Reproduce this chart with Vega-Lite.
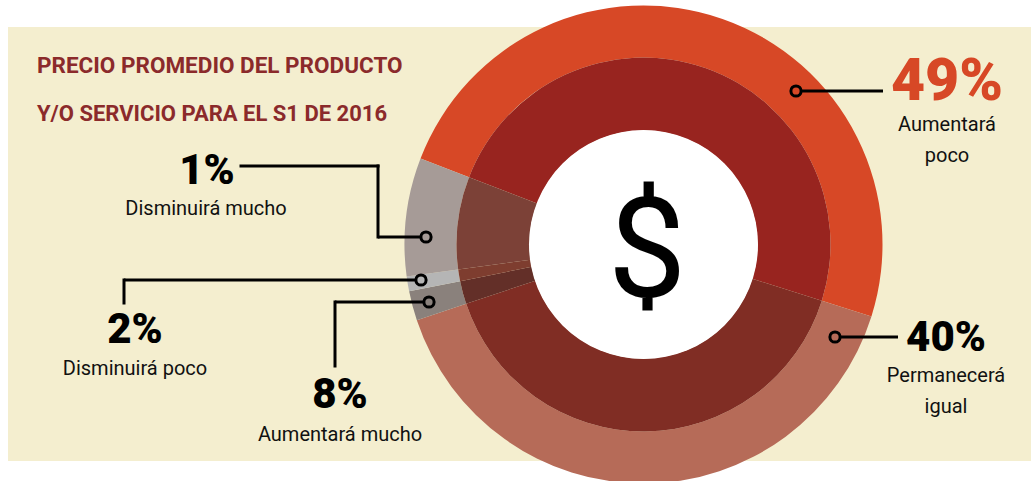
{"$schema":"https://vega.github.io/schema/vega-lite/v6.json","width":1031,"height":481,"padding":0,"autosize":"none","background":"#ffffff","config":{"view":{"stroke":null},"axis":{"disable":true}},"datasets":{"respuestas":[{"categoria":"Aumentará poco","rotulo":"49%","texto":"Aumentará\npoco","cuota":49,"orden":1},{"categoria":"Permanecerá igual","rotulo":"40%","texto":"Permanecerá\nigual","cuota":40,"orden":2},{"categoria":"Aumentará mucho","rotulo":"8%","texto":"Aumentará mucho","cuota":2,"orden":3},{"categoria":"Disminuirá poco","rotulo":"2%","texto":"Disminuirá poco","cuota":1,"orden":4},{"categoria":"Disminuirá mucho","rotulo":"1%","texto":"Disminuirá mucho","cuota":8,"orden":5}],"lienzo":[{"pieza":"fondo"}]},"data":{"name":"respuestas"},"resolve":{"scale":{"color":"independent"}},"layer":[
{"data":{"name":"lienzo"},"mark":{"type":"rect","fill":"#F4EECF"},"encoding":{"x":{"datum":8,"type":"quantitative","scale":{"domain":[0,1031],"nice":false,"zero":false}},"x2":{"datum":1031},"y":{"datum":27,"type":"quantitative","scale":{"domain":[481,0],"nice":false,"zero":false}},"y2":{"datum":461}}},
{"mark":{"type":"arc","radius":239,"radius2":187},"encoding":{"x":{"datum":643.5,"type":"quantitative"},"y":{"datum":244.5,"type":"quantitative"},"theta":{"field":"cuota","type":"quantitative","stack":true,"scale":{"domain":[0,100],"range":[-1.2025,5.0807]}},"order":{"field":"orden"},"color":{"field":"categoria","type":"nominal","legend":null,"scale":{"domain":["Aumentará poco","Permanecerá igual","Aumentará mucho","Disminuirá poco","Disminuirá mucho"],"range":["#D74826","#B66B58","#8A817C","#B5B5B5","#A69B97"]}}}},
{"mark":{"type":"arc","radius":187,"radius2":114},"encoding":{"x":{"datum":643.5,"type":"quantitative"},"y":{"datum":244.5,"type":"quantitative"},"theta":{"field":"cuota","type":"quantitative","stack":true,"scale":{"domain":[0,100],"range":[-1.2025,5.0807]}},"order":{"field":"orden"},"color":{"field":"categoria","type":"nominal","legend":null,"scale":{"domain":["Aumentará poco","Permanecerá igual","Aumentará mucho","Disminuirá poco","Disminuirá mucho"],"range":["#98241F","#802D24","#632F28","#7E3D2F","#7C4137"]}}}},
{"data":{"name":"lienzo"},"mark":{"type":"point","shape":"circle","filled":true,"fill":"#ffffff","opacity":1,"size":52441},"encoding":{"x":{"datum":643.5,"type":"quantitative"},"y":{"datum":244.5,"type":"quantitative"}}},
{"data":{"name":"lienzo"},"mark":{"type":"text","text":"$","font":"Roboto","fontSize":140,"align":"center","baseline":"alphabetic","fill":"#000000"},"encoding":{"x":{"datum":647,"type":"quantitative"},"y":{"datum":297,"type":"quantitative"}}},
{"data":{"name":"lienzo"},"mark":{"type":"text","text":"PRECIO PROMEDIO DEL PRODUCTO","font":"Roboto","fontWeight":"bold","fontSize":22.5,"align":"left","baseline":"alphabetic","fill":"#8B2A2B"},"encoding":{"x":{"datum":37,"type":"quantitative"},"y":{"datum":73,"type":"quantitative"}}},
{"data":{"name":"lienzo"},"mark":{"type":"text","text":"Y/O SERVICIO PARA EL S1 DE 2016","font":"Roboto","fontWeight":"bold","fontSize":22,"align":"left","baseline":"alphabetic","fill":"#8B2A2B"},"encoding":{"x":{"datum":37,"type":"quantitative"},"y":{"datum":121,"type":"quantitative"}}},

{"transform":[{"filter":"datum.orden==1"}],"mark":{"type":"rule","stroke":"#000000","strokeWidth":3},"encoding":{"x":{"datum":802,"type":"quantitative"},"x2":{"datum":883},"y":{"datum":91,"type":"quantitative"}}},
{"transform":[{"filter":"datum.orden==2"}],"mark":{"type":"rule","stroke":"#000000","strokeWidth":3},"encoding":{"x":{"datum":841,"type":"quantitative"},"x2":{"datum":898},"y":{"datum":337,"type":"quantitative"}}},
{"transform":[{"filter":"datum.orden==5"}],"mark":{"type":"rule","stroke":"#000000","strokeWidth":3,"strokeCap":"square"},"encoding":{"x":{"datum":241,"type":"quantitative"},"x2":{"datum":378},"y":{"datum":166,"type":"quantitative"}}},
{"transform":[{"filter":"datum.orden==5"}],"mark":{"type":"rule","stroke":"#000000","strokeWidth":3,"strokeCap":"square"},"encoding":{"x":{"datum":378,"type":"quantitative"},"y":{"datum":166,"type":"quantitative"},"y2":{"datum":237}}},
{"transform":[{"filter":"datum.orden==5"}],"mark":{"type":"rule","stroke":"#000000","strokeWidth":3},"encoding":{"x":{"datum":378,"type":"quantitative"},"x2":{"datum":420},"y":{"datum":237,"type":"quantitative"}}},
{"transform":[{"filter":"datum.orden==4"}],"mark":{"type":"rule","stroke":"#000000","strokeWidth":3,"strokeCap":"square"},"encoding":{"x":{"datum":124,"type":"quantitative"},"y":{"datum":280,"type":"quantitative"},"y2":{"datum":303}}},
{"transform":[{"filter":"datum.orden==4"}],"mark":{"type":"rule","stroke":"#000000","strokeWidth":3},"encoding":{"x":{"datum":124,"type":"quantitative"},"x2":{"datum":415},"y":{"datum":280,"type":"quantitative"}}},
{"transform":[{"filter":"datum.orden==3"}],"mark":{"type":"rule","stroke":"#000000","strokeWidth":3,"strokeCap":"square"},"encoding":{"x":{"datum":335,"type":"quantitative"},"y":{"datum":302,"type":"quantitative"},"y2":{"datum":366}}},
{"transform":[{"filter":"datum.orden==3"}],"mark":{"type":"rule","stroke":"#000000","strokeWidth":3},"encoding":{"x":{"datum":335,"type":"quantitative"},"x2":{"datum":423},"y":{"datum":302,"type":"quantitative"}}},

{"transform":[{"filter":"datum.orden==1"}],"mark":{"type":"point","shape":"circle","filled":false,"stroke":"#000000","strokeWidth":3,"opacity":1,"size":105},"encoding":{"x":{"datum":796,"type":"quantitative"},"y":{"datum":91,"type":"quantitative"}}},
{"transform":[{"filter":"datum.orden==2"}],"mark":{"type":"point","shape":"circle","filled":false,"stroke":"#000000","strokeWidth":3,"opacity":1,"size":105},"encoding":{"x":{"datum":835,"type":"quantitative"},"y":{"datum":337,"type":"quantitative"}}},
{"transform":[{"filter":"datum.orden==5"}],"mark":{"type":"point","shape":"circle","filled":false,"stroke":"#000000","strokeWidth":3,"opacity":1,"size":105},"encoding":{"x":{"datum":426,"type":"quantitative"},"y":{"datum":237,"type":"quantitative"}}},
{"transform":[{"filter":"datum.orden==4"}],"mark":{"type":"point","shape":"circle","filled":false,"stroke":"#000000","strokeWidth":3,"opacity":1,"size":105},"encoding":{"x":{"datum":421,"type":"quantitative"},"y":{"datum":280,"type":"quantitative"}}},
{"transform":[{"filter":"datum.orden==3"}],"mark":{"type":"point","shape":"circle","filled":false,"stroke":"#000000","strokeWidth":3,"opacity":1,"size":105},"encoding":{"x":{"datum":429,"type":"quantitative"},"y":{"datum":302,"type":"quantitative"}}},

{"transform":[{"filter":"datum.orden==1"}],"mark":{"type":"text","font":"Roboto","fontWeight":900,"fontSize":59,"align":"center","baseline":"alphabetic","fill":"#D74826"},"encoding":{"text":{"field":"rotulo"},"x":{"datum":947,"type":"quantitative"},"y":{"datum":100,"type":"quantitative"}}},
{"transform":[{"filter":"datum.orden==2"}],"mark":{"type":"text","font":"Roboto","fontWeight":900,"fontSize":42,"align":"center","baseline":"alphabetic","fill":"#000000"},"encoding":{"text":{"field":"rotulo"},"x":{"datum":946,"type":"quantitative"},"y":{"datum":351,"type":"quantitative"}}},
{"transform":[{"filter":"datum.orden==5"}],"mark":{"type":"text","font":"Roboto","fontWeight":900,"fontSize":42,"align":"center","baseline":"alphabetic","fill":"#000000"},"encoding":{"text":{"field":"rotulo"},"x":{"datum":207,"type":"quantitative"},"y":{"datum":184,"type":"quantitative"}}},
{"transform":[{"filter":"datum.orden==4"}],"mark":{"type":"text","font":"Roboto","fontWeight":900,"fontSize":42,"align":"center","baseline":"alphabetic","fill":"#000000"},"encoding":{"text":{"field":"rotulo"},"x":{"datum":135,"type":"quantitative"},"y":{"datum":343,"type":"quantitative"}}},
{"transform":[{"filter":"datum.orden==3"}],"mark":{"type":"text","font":"Roboto","fontWeight":900,"fontSize":42,"align":"center","baseline":"alphabetic","fill":"#000000"},"encoding":{"text":{"field":"rotulo"},"x":{"datum":340,"type":"quantitative"},"y":{"datum":408,"type":"quantitative"}}},

{"transform":[{"filter":"datum.orden==1"}],"mark":{"type":"text","font":"Roboto","fontSize":20,"lineBreak":"\n","lineHeight":31,"align":"center","baseline":"alphabetic","fill":"#111111"},"encoding":{"text":{"field":"texto"},"x":{"datum":947,"type":"quantitative"},"y":{"datum":131,"type":"quantitative"}}},
{"transform":[{"filter":"datum.orden==2"}],"mark":{"type":"text","font":"Roboto","fontSize":20,"lineBreak":"\n","lineHeight":31,"align":"center","baseline":"alphabetic","fill":"#111111"},"encoding":{"text":{"field":"texto"},"x":{"datum":946,"type":"quantitative"},"y":{"datum":382,"type":"quantitative"}}},
{"transform":[{"filter":"datum.orden==5"}],"mark":{"type":"text","font":"Roboto","fontSize":20,"align":"center","baseline":"alphabetic","fill":"#111111"},"encoding":{"text":{"field":"texto"},"x":{"datum":206,"type":"quantitative"},"y":{"datum":215,"type":"quantitative"}}},
{"transform":[{"filter":"datum.orden==4"}],"mark":{"type":"text","font":"Roboto","fontSize":20,"align":"center","baseline":"alphabetic","fill":"#111111"},"encoding":{"text":{"field":"texto"},"x":{"datum":135,"type":"quantitative"},"y":{"datum":375,"type":"quantitative"}}},
{"transform":[{"filter":"datum.orden==3"}],"mark":{"type":"text","font":"Roboto","fontSize":20,"align":"center","baseline":"alphabetic","fill":"#111111"},"encoding":{"text":{"field":"texto"},"x":{"datum":340,"type":"quantitative"},"y":{"datum":441,"type":"quantitative"}}}
]}
